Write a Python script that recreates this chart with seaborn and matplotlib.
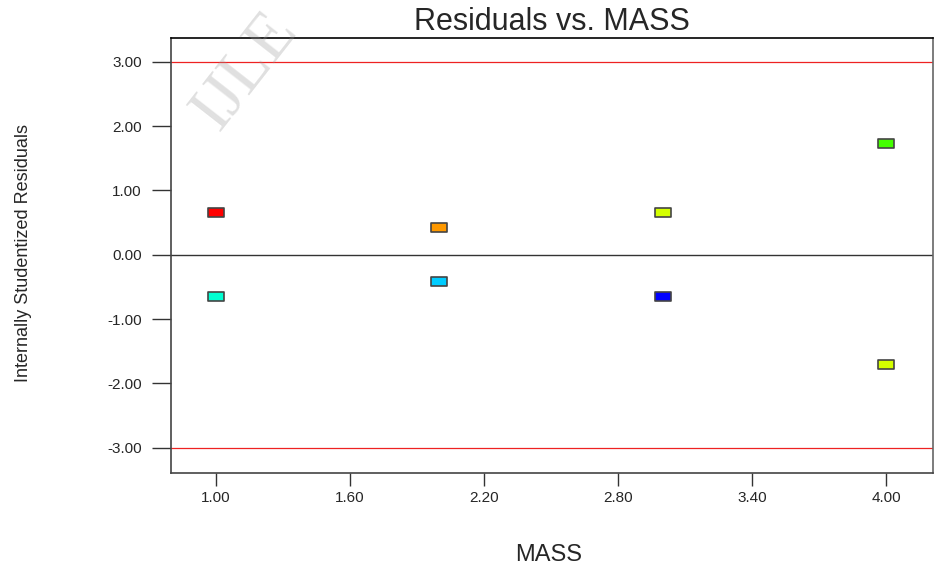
import numpy as np
import pandas as pd
import matplotlib
matplotlib.use("Agg")
import matplotlib.pyplot as plt
import seaborn as sns
from matplotlib.path import Path

# data
mass = [1.0, 1.0, 2.0, 2.0, 3.0, 3.0, 4.0, 4.0]
residuals = [0.65, -0.65, 0.42, -0.42, 0.65, -0.65, 1.73, -1.71]
point_colors = ["#ff0000", "#00ffd2", "#ff9900", "#00ccff",
                "#d4ff00", "#0000ff", "#44ff00", "#d4ff00"]
x_ticks = [1.00, 1.60, 2.20, 2.80, 3.40, 4.00]
y_ticks = [-3.00, -2.00, -1.00, 0.00, 1.00, 2.00, 3.00]
limits = [-3.0, 3.0]

df = pd.DataFrame({"MASS": mass, "resid": residuals,
                   "run": [str(i) for i in range(len(mass))]})

sns.set_style("white")
plt.rcParams["font.family"] = ["Liberation Sans", "DejaVu Sans"]

fig = plt.figure(figsize=(9.35, 5.67), dpi=100)
ax = fig.add_axes([0.183, 0.166, 0.815, 0.767])

# flat rectangle marker like the Design-Expert squares
rect = Path([(-1, -0.55), (1, -0.55), (1, 0.55), (-1, 0.55), (-1, -0.55)],
            [Path.MOVETO, Path.LINETO, Path.LINETO, Path.LINETO, Path.CLOSEPOLY])

ax.axhline(0, color="#333333", lw=1.0, zorder=1)
for lim in limits:
    ax.axhline(lim, color="#ee2222", lw=0.9, zorder=1)

sns.scatterplot(data=df, x="MASS", y="resid", hue="run", palette=point_colors,
                marker=rect, s=140, edgecolor="#444444", linewidth=1.2,
                legend=False, ax=ax, zorder=3)

ax.set_xlim(0.80, 4.21)
ax.set_ylim(-3.39, 3.37)
ax.set_xticks(x_ticks)
ax.set_xticklabels([f"{t:.2f}" for t in x_ticks], fontsize=11)
ax.set_yticks(y_ticks)
ax.set_yticklabels([f"{t:.2f}" for t in y_ticks], fontsize=11)
ax.tick_params(axis="y", direction="out", length=14, width=1, color="#333333", pad=7, left=True)
ax.tick_params(axis="x", direction="out", length=9, width=1, color="#333333", pad=4, bottom=True)

for side, col in [("top", "black"), ("left", "#444444"), ("bottom", "#444444"), ("right", "#666666")]:
    ax.spines[side].set_color(col)
    ax.spines[side].set_linewidth(1.2)

ax.set_xlabel("MASS", fontsize=17)
ax.xaxis.set_label_coords(0.495, -0.163)
ax.set_ylabel("Internally Studentized Residuals", fontsize=13)
ax.yaxis.set_label_coords(-0.182, 0.505)
ax.set_title("Residuals vs. MASS", fontsize=22, pad=6)

# faint watermark, kept inside the figure
fig.text(0.262, 0.875, "IJLE", fontsize=48, rotation=52, color="#999999", alpha=0.3,
         family=["Liberation Serif", "DejaVu Serif"], ha="center", va="center", zorder=10)

fig.savefig("out.png", dpi=100)
